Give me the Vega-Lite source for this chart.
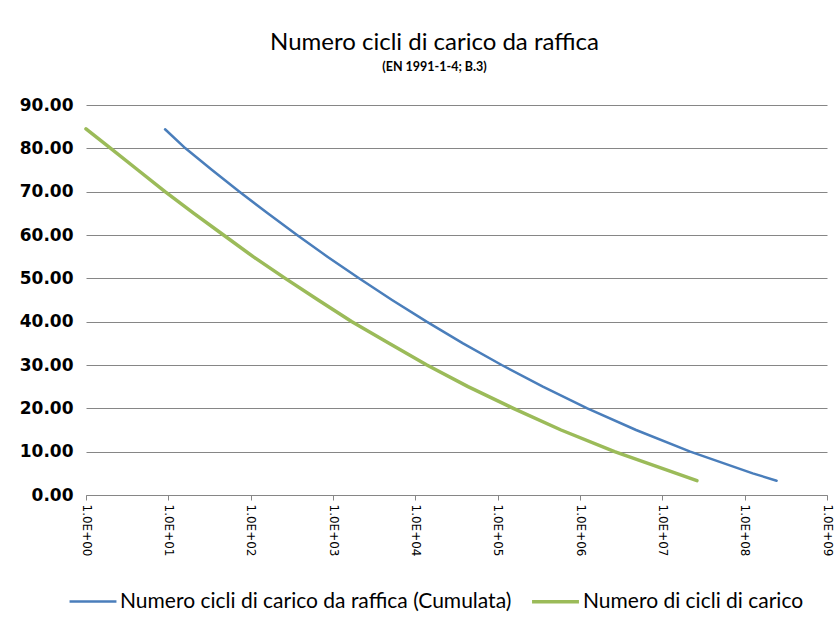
{
  "$schema": "https://vega.github.io/schema/vega-lite/v6.json",
  "width": 741,
  "height": 390,
  "autosize": {"type": "none"},
  "padding": {"left": 86, "top": 105, "right": 9, "bottom": 133},
  "background": "white",
  "title": {
    "text": "Numero cicli di carico da raffica",
    "subtitle": "(EN 1991-1-4; B.3)",
    "anchor": "middle",
    "dx": -22,
    "offset": 23,
    "font": "Lato",
    "fontSize": 24,
    "fontWeight": "normal",
    "color": "#000000",
    "subtitleFont": "Lato",
    "subtitleFontSize": 12.5,
    "subtitleFontWeight": "bold",
    "subtitleColor": "#000000",
    "subtitlePadding": 6
  },
  "data": {
    "values": [
      {"serie": "Numero cicli di carico da raffica (Cumulata)", "N": 9.12, "v": 84.4},
      {"serie": "Numero cicli di carico da raffica (Cumulata)", "N": 16.14, "v": 80},
      {"serie": "Numero cicli di carico da raffica (Cumulata)", "N": 33.96, "v": 75},
      {"serie": "Numero cicli di carico da raffica (Cumulata)", "N": 73.1, "v": 70},
      {"serie": "Numero cicli di carico da raffica (Cumulata)", "N": 161.1, "v": 65},
      {"serie": "Numero cicli di carico da raffica (Cumulata)", "N": 365.6, "v": 60},
      {"serie": "Numero cicli di carico da raffica (Cumulata)", "N": 855.1, "v": 55},
      {"serie": "Numero cicli di carico da raffica (Cumulata)", "N": 2070, "v": 50},
      {"serie": "Numero cicli di carico da raffica (Cumulata)", "N": 5212, "v": 45},
      {"serie": "Numero cicli di carico da raffica (Cumulata)", "N": 13710, "v": 40},
      {"serie": "Numero cicli di carico da raffica (Cumulata)", "N": 37930, "v": 35},
      {"serie": "Numero cicli di carico da raffica (Cumulata)", "N": 111900, "v": 30},
      {"serie": "Numero cicli di carico da raffica (Cumulata)", "N": 354000, "v": 25},
      {"serie": "Numero cicli di carico da raffica (Cumulata)", "N": 1227000, "v": 20},
      {"serie": "Numero cicli di carico da raffica (Cumulata)", "N": 4797000, "v": 15},
      {"serie": "Numero cicli di carico da raffica (Cumulata)", "N": 21830000, "v": 10},
      {"serie": "Numero cicli di carico da raffica (Cumulata)", "N": 125300000, "v": 5},
      {"serie": "Numero cicli di carico da raffica (Cumulata)", "N": 244300000, "v": 3.3},
      {"serie": "Numero di cicli di carico", "N": 1, "v": 84.5},
      {"serie": "Numero di cicli di carico", "N": 1.995, "v": 80},
      {"serie": "Numero di cicli di carico", "N": 4.266, "v": 75},
      {"serie": "Numero di cicli di carico", "N": 9.12, "v": 70},
      {"serie": "Numero di cicli di carico", "N": 20.42, "v": 65},
      {"serie": "Numero di cicli di carico", "N": 46.77, "v": 60},
      {"serie": "Numero di cicli di carico", "N": 107.2, "v": 55},
      {"serie": "Numero di cicli di carico", "N": 263.0, "v": 50},
      {"serie": "Numero di cicli di carico", "N": 660.7, "v": 45},
      {"serie": "Numero di cicli di carico", "N": 1698, "v": 40},
      {"serie": "Numero di cicli di carico", "N": 4786, "v": 35},
      {"serie": "Numero di cicli di carico", "N": 13804, "v": 30},
      {"serie": "Numero di cicli di carico", "N": 43652, "v": 25},
      {"serie": "Numero di cicli di carico", "N": 154882, "v": 20},
      {"serie": "Numero di cicli di carico", "N": 588844, "v": 15},
      {"serie": "Numero di cicli di carico", "N": 2630268, "v": 10},
      {"serie": "Numero di cicli di carico", "N": 14791084, "v": 5},
      {"serie": "Numero di cicli di carico", "N": 26302680, "v": 3.3}
    ]
  },
  "mark": {"type": "line", "strokeCap": "round", "strokeJoin": "round"},
  "encoding": {
    "x": {
      "field": "N",
      "type": "quantitative",
      "scale": {"type": "log", "domain": [1, 1000000000], "nice": false},
      "axis": {
        "title": null,
        "values": [1, 10, 100, 1000, 10000, 100000, 1000000, 10000000, 100000000, 1000000000],
        "labelExpr": "'1.0E+0' + format(round(log(datum.value) / LN10), 'd')",
        "labelAngle": 90,
        "labelAlign": "left",
        "labelBaseline": "middle",
        "labelFont": "DejaVu Sans",
        "labelFontSize": 12,
        "labelColor": "#000000",
        "labelPadding": 4,
        "grid": false,
        "domainColor": "#868686",
        "tickColor": "#868686",
        "tickSize": 5,
        "labelFlush": false,
        "labelOverlap": false
      }
    },
    "y": {
      "field": "v",
      "type": "quantitative",
      "scale": {"domain": [0, 90], "nice": false},
      "axis": {
        "title": null,
        "values": [0, 10, 20, 30, 40, 50, 60, 70, 80, 90],
        "format": ".2f",
        "labelFont": "DejaVu Sans",
        "labelFontSize": 17,
        "labelFontWeight": "bold",
        "labelColor": "#000000",
        "labelPadding": 13,
        "domain": false,
        "ticks": false,
        "grid": true,
        "gridColor": "#868686",
        "gridWidth": 1
      }
    },
    "color": {
      "field": "serie",
      "type": "nominal",
      "scale": {
        "domain": ["Numero cicli di carico da raffica (Cumulata)", "Numero di cicli di carico"],
        "range": ["#4A7EBB", "#9BBB59"]
      },
      "legend": {
        "title": null,
        "orient": "none",
        "legendX": -18,
        "legendY": 471,
        "direction": "horizontal",
        "symbolType": "stroke",
        "symbolSize": 2200,
        "symbolStrokeWidth": 3,
        "labelFont": "Lato",
        "labelFontSize": 21,
        "labelColor": "#000000",
        "labelLimit": 600,
        "labelOffset": 2,
        "columnPadding": 13
      }
    },
    "strokeWidth": {
      "field": "serie",
      "type": "nominal",
      "scale": {
        "domain": ["Numero cicli di carico da raffica (Cumulata)", "Numero di cicli di carico"],
        "range": [2.5, 3.5]
      },
      "legend": null
    }
  },
  "config": {"view": {"stroke": null}}
}
